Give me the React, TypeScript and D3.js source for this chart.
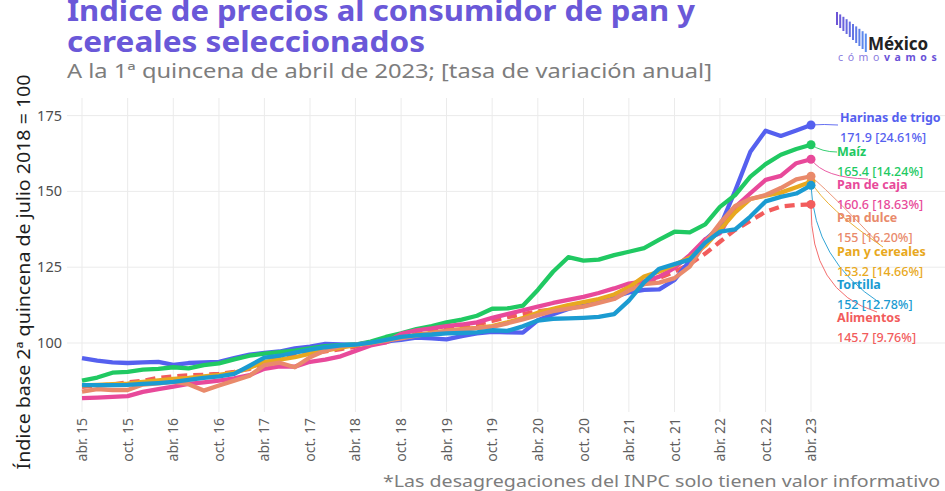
import React from 'react';
import * as d3 from 'd3';

// valores cada 2 meses, de abr. 2015 a abr. 2023 (1a quincena)
const harinas = [
  95.0, 94.2, 93.6, 93.4, 93.6, 93.8, 92.8, 93.4, 93.6, 93.8,
  95.0, 96.2, 96.7, 97.2, 98.2, 98.8, 99.7, 99.5, 99.4, 100.2,
  100.5, 101.0, 101.8, 101.5, 101.2, 102.3, 103.2, 103.7, 103.5, 103.4,
  107.5, 109.5, 111.2, 112.5, 113.8, 115.3, 116.7, 117.5, 117.7, 120.8,
  127.1, 134.0, 138.3, 150.2, 163.1, 170.0, 168.3, 170.1, 171.9,
];
const maiz = [
  87.6, 88.6, 90.2, 90.5, 91.2, 91.5, 92.0, 91.6, 92.7, 93.3,
  94.6, 95.8, 96.5, 97.0, 97.5, 98.2, 99.0, 99.3, 99.5, 100.5,
  102.0, 103.2, 104.6, 105.6, 106.8, 107.7, 109.0, 111.3, 111.4, 112.3,
  117.5, 123.5, 128.3, 127.2, 127.5, 129.0, 130.1, 131.3, 134.1, 136.7,
  136.5, 139.1, 144.9, 148.8, 154.9, 159.0, 162.1, 164.0, 165.4,
];
const panCaja = [
  81.8, 82.0, 82.2, 82.5, 83.9, 84.8, 85.6, 86.5, 87.0, 87.6,
  88.3, 89.4, 91.5, 92.3, 92.2, 93.8, 94.5, 95.6, 97.4, 99.2,
  100.2, 103.0, 104.2, 104.8, 105.6, 106.1, 106.8, 108.3, 109.5, 110.8,
  112.0, 113.2, 114.2, 115.2, 116.5, 118.0, 119.6, 120.3, 121.9, 124.8,
  129.0, 134.2, 136.2, 144.8, 149.4, 153.8, 155.1, 159.3, 160.6,
];
const panDulce = [
  84.0, 84.8, 84.5, 84.5, 86.3, 86.7, 87.2, 86.4, 84.3, 86.0,
  87.6, 89.2, 92.7, 93.5, 92.0, 95.3, 97.5, 99.0, 99.5, 100.0,
  100.8, 101.5, 102.4, 103.2, 104.0, 104.4, 104.9, 105.3, 106.5, 107.8,
  109.2, 110.5, 111.3, 112.0, 113.2, 114.5, 117.3, 119.4, 119.9, 121.4,
  125.2, 133.1, 139.5, 145.2, 147.5, 148.8, 151.1, 154.0, 155.0,
];
const panCereales = [
  86.0, 86.2, 86.4, 86.6, 87.2, 87.7, 88.2, 88.5, 89.0, 89.5,
  90.2, 91.8, 93.8, 94.5, 95.3, 96.5, 97.5, 98.5, 99.3, 100.0,
  100.9, 101.8, 102.6, 103.3, 104.0, 104.6, 105.0, 105.6, 106.8, 108.2,
  110.0, 111.3, 112.5, 113.5, 114.5, 116.0, 118.4, 121.9, 123.6, 125.8,
  128.1, 132.1, 137.3, 143.1, 147.5, 148.6, 149.6, 151.4, 153.2,
];
const tortilla = [
  86.1, 86.1, 86.1, 86.2, 86.5, 86.8, 87.2, 87.8, 88.5, 89.0,
  89.8, 92.5, 95.2, 95.8, 96.8, 97.8, 98.6, 99.2, 99.5, 100.1,
  101.0, 102.0, 102.5, 102.8, 103.2, 103.3, 103.5, 104.2, 104.0, 105.5,
  107.4, 108.0, 108.1, 108.3, 108.6, 109.5, 114.0, 120.0, 124.5, 126.0,
  127.5, 133.1, 136.7, 137.5, 141.7, 146.7, 148.2, 149.3, 152.0,
];
const alimentos = [
  85.5, 86.0, 86.3, 87.0, 87.5, 88.5, 89.0, 89.3, 89.5, 89.8,
  90.5, 91.5, 93.5, 95.0, 96.0, 96.5, 97.2, 98.0, 98.8, 99.5,
  100.3, 101.5, 103.0, 104.0, 104.8, 105.5, 106.2, 107.3, 108.5, 109.5,
  110.5, 111.0, 111.8, 112.5, 113.5, 115.5, 117.5, 119.5, 121.5, 123.5,
  126.0, 129.5, 133.4, 137.3, 140.3, 143.3, 145.0, 145.5, 145.7,
];

const nombres = ['Harinas de trigo', 'Maíz', 'Pan de caja', 'Pan dulce', 'Pan y cereales', 'Tortilla', 'Alimentos'];
const ultimos = ['171.9', '165.4', '160.6', '155', '153.2', '152', '145.7'];
const variaciones = ['24.61%', '14.24%', '18.63%', '16.20%', '14.66%', '12.78%', '9.76%'];
const colores = ['#5560ef', '#20c962', '#e8499a', '#e98a6b', '#e8a820', '#1b9bd1', '#f25c5c'];
const series = [harinas, maiz, panCaja, panDulce, panCereales, tortilla, alimentos];

const etiquetasX = [
  'abr. 15', 'oct. 15', 'abr. 16', 'oct. 16', 'abr. 17', 'oct. 17', 'abr. 18', 'oct. 18', 'abr. 19',
  'oct. 19', 'abr. 20', 'oct. 20', 'abr. 21', 'oct. 21', 'abr. 22', 'oct. 22', 'abr. 23',
];
const ticksY = [100, 125, 150, 175];

const inicio = new Date(2015, 3, 1);
const fin = new Date(2023, 3, 1);
const fechas = d3.timeMonth.range(inicio, new Date(2023, 4, 1), 2);
const fechasTicks = d3.timeMonth.range(inicio, new Date(2023, 4, 1), 6);

const WIDTH = 945;
const HEIGHT = 491;
const PANEL = { l: 67, r: 945, t: 98, b: 412 };
const FONT = "'Noto Sans', 'Open Sans', sans-serif";

// posiciones de las etiquetas de la derecha (y del nombre) y de sus conectores
const LABEL_Y = [122, 156, 189, 222, 256, 289, 322];
const LABEL_X = [840, 837, 837, 837, 837, 837, 837];
const CONN = [
  { to: [838, 125], c: [824, 124] },
  { to: [837, 152], c: [822, 152] },
  { to: [868, 179], c: [824, 178] },
  { to: [880, 245], c: [838, 200] },
  { to: [883, 247], c: [826, 208] },
  { to: [880, 303], c: [814, 260] },
  { to: [877, 312], c: [810, 292] },
];
const ORDEN = [6, 0, 1, 2, 4, 3, 5];

const Logo = () => {
  const bars = d3.range(10);
  const barColor = d3.scaleLinear<string>().domain([0, 9]).range(['#6d55d6', '#5a8ef0']);
  return (
    <g>
      {bars.map((i) => (
        <rect
          key={i}
          x={836 + i * 3.2}
          y={12 + i * 2.4}
          width={2}
          height={13 + i * 0.6}
          fill={barColor(i)}
        />
      ))}
      <text x={868} y={50} fontFamily={FONT} fontWeight={700} fontSize={17} fill="#222">
        México
      </text>
      <text x={838} y={61} fontFamily={FONT} fontSize={10.5} letterSpacing={4.6} fill="#8a7be0">
        cómo
        <tspan fontWeight={700} fill="#6a52d8">vamos</tspan>
      </text>
    </g>
  );
};

const App = () => {
  const x = d3.scaleTime().domain([inicio, fin]).range([82, 811]);
  const y = d3.scaleLinear().domain([100, 175]).range([343, 115.6]);

  const line = d3
    .line<number>()
    .x((d, i) => x(fechas[i]))
    .y((d) => y(d));

  const last = fechas.length - 1;

  return (
    <svg width={WIDTH} height={HEIGHT} style={{ display: 'block', position: 'absolute', left: 0, top: 0 }}>
      <rect width={WIDTH} height={HEIGHT} fill="#fff" />
      {/* rejilla */}
      <g stroke="#ebebeb" strokeWidth={1}>
        {ticksY.map((t) => (
          <line key={t} x1={PANEL.l} x2={PANEL.r} y1={y(t)} y2={y(t)} />
        ))}
        {fechasTicks.map((d, i) => (
          <line key={i} x1={x(d)} x2={x(d)} y1={PANEL.t} y2={PANEL.b} />
        ))}
      </g>

      {/* eje y */}
      <g fontFamily={FONT} fontSize={14.5} fill="#4d4d4d" textAnchor="end">
        {ticksY.map((t) => (
          <text key={t} x={62} y={y(t)} dy="0.35em">
            {t}
          </text>
        ))}
      </g>
      <text
        transform={`translate(30, 272) rotate(-90)`}
        textAnchor="middle"
        fontFamily={FONT}
        fontSize={18}
        fill="#1e1e1e"
        textLength={395}
        lengthAdjust="spacingAndGlyphs"
      >
        Índice base 2ª quincena de julio 2018 = 100
      </text>

      {/* eje x */}
      <g fontFamily={FONT} fontSize={14} fill="#5e5e5e" textAnchor="end">
        {fechasTicks.map((d, i) => (
          <text key={i} transform={`translate(${x(d)}, 418) rotate(-90)`} dy="0.36em">
            {etiquetasX[i]}
          </text>
        ))}
      </g>

      {/* conectores */}
      <g fill="none" strokeWidth={0.9}>
        {series.map((s, k) => (
          <path
            key={k}
            d={`M${x(fechas[last])},${y(s[last])}Q${CONN[k].c[0]},${CONN[k].c[1]} ${CONN[k].to[0]},${CONN[k].to[1]}`}
            stroke={colores[k]}
          />
        ))}
      </g>

      {/* líneas */}
      <g fill="none" strokeWidth={4.3} strokeLinejoin="round">
        {ORDEN.map((k) => (
          <path
            key={k}
            d={line(series[k]) || ''}
            stroke={colores[k]}
            strokeDasharray={k === 6 ? '10,6' : undefined}
          />
        ))}
      </g>
      <g>
        {ORDEN.map((k) => (
          <circle key={k} cx={x(fechas[last])} cy={y(series[k][last])} r={4.5} fill={colores[k]} />
        ))}
      </g>

      {/* etiquetas */}
      <g fontFamily={FONT} fontSize={12.5}>
        {nombres.map((n, k) => (
          <g key={k} fill={colores[k]}>
            <text x={LABEL_X[k]} y={LABEL_Y[k]} fontWeight={700}>
              {n}
            </text>
            <text x={LABEL_X[k]} y={LABEL_Y[k] + 20} fontWeight={500}>
              {`${ultimos[k]} [${variaciones[k]}]`}
            </text>
          </g>
        ))}
      </g>

      {/* títulos */}
      <g fontFamily={FONT} fill="#6a58d8" fontWeight={700} fontSize={29}>
        <text x={67} y={21} textLength={628} lengthAdjust="spacingAndGlyphs">
          Índice de precios al consumidor de pan y
        </text>
        <text x={67} y={52} textLength={358} lengthAdjust="spacingAndGlyphs">
          cereales seleccionados
        </text>
      </g>
      <text x={67} y={78} fontFamily={FONT} fontSize={20} fill="#7d7d7d" textLength={645} lengthAdjust="spacingAndGlyphs">
        A la 1ª quincena de abril de 2023; [tasa de variación anual]
      </text>
      <text
        x={940}
        y={487}
        textAnchor="end"
        fontFamily={FONT}
        fontSize={17}
        fill="#7d7d7d"
        textLength={557}
        lengthAdjust="spacingAndGlyphs"
      >
        *Las desagregaciones del INPC solo tienen valor informativo
      </text>
      <Logo />
    </svg>
  );
};

export default App;
